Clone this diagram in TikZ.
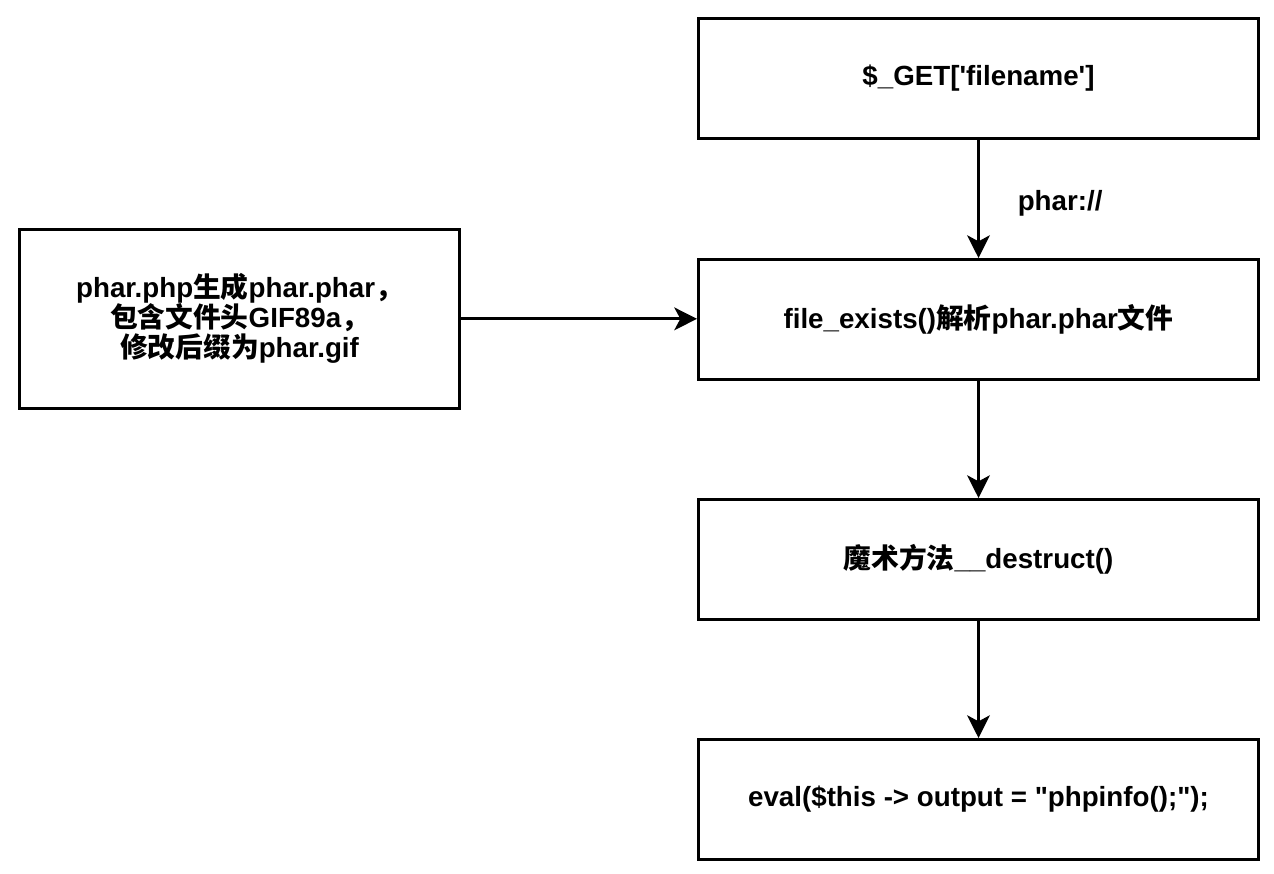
\documentclass[tikz,border=0pt]{standalone}
\usepackage{fontspec}
\setmainfont{Liberation Sans}[Ligatures=TeXOff]
\newfontfamily\cjk{Noto Sans CJK SC}
\usetikzlibrary{arrows.meta}
\tikzset{
  txt/.style={font=\fontsize{20.8}{22.5}\selectfont\bfseries},
  box/.style={draw, line width=2.25pt, minimum width=420pt, minimum height=90pt, anchor=north west, inner sep=0pt, align=center, txt},
  conn/.style={line width=2.25pt, -{Stealth[length=17pt,width=17pt,inset=4.5pt]}},
}
\begin{document}
\begin{tikzpicture}[x=0.75pt,y=-0.75pt]
\useasboundingbox (0,0) rectangle (1274,874);
\node[box] (get) at (697,17) {\$\_GET['filename']};
\node[box, minimum width=330pt, minimum height=134pt] (gen) at (18,228) {phar.php{\cjk 生成}phar.phar{\cjk ，}\\{\cjk 包含文件头}GIF89a{\cjk ，}\\{\cjk 修改后缀为}phar.gif};
\node[box] (fe) at (697,258) {file\_exists(){\cjk 解析}phar.phar{\cjk 文件}};
\node[box] (mg) at (697,498) {{\cjk 魔术方法}\_\_destruct()};
\node[box] (ev) at (697,738) {eval(\$this -> output = "phpinfo();");};
\draw[conn] (get.south) -- node[right=25pt, yshift=-3pt, txt] (lbl) {phar://} (fe.north);
\draw[conn] (gen.east) -- (fe.west |- gen.east);
\draw[conn] (fe.south) -- (mg.north);
\draw[conn] (mg.south) -- (ev.north);
\end{tikzpicture}
\end{document}
